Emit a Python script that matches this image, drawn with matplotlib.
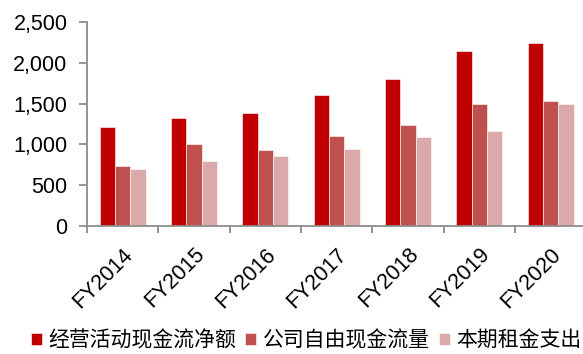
import numpy as np
import matplotlib.pyplot as plt
from matplotlib.ticker import FuncFormatter

years = ["FY2014", "FY2015", "FY2016", "FY2017", "FY2018", "FY2019", "FY2020"]
op_cash = [1213, 1320, 1381, 1605, 1801, 2145, 2239]
free_cash = [735, 1001, 931, 1107, 1238, 1491, 1532]
rent = [695, 793, 862, 948, 1087, 1164, 1499]

labels = ["经营活动现金流净额", "公司自由现金流量", "本期租金支出"]
colors = ["#C00000", "#C0504D", "#DBA9A9"]

plt.rcParams["font.family"] = ["Liberation Sans", "Noto Sans CJK SC"]

fig = plt.figure(figsize=(5.83, 3.54), dpi=100)
ax = fig.add_axes([0.149, 0.362, 0.857, 0.576])

x = np.arange(len(years))
w = 0.215
for i, (vals, lab, col) in enumerate(zip([op_cash, free_cash, rent], labels, colors)):
    ax.bar(x + (i - 1) * w, vals, width=w, color=col, label=lab,
           edgecolor="white", linewidth=0.4)

ax.set_xlim(-0.5, len(years) - 0.5)
ax.set_ylim(0, 2500)
ax.set_yticks(range(0, 2501, 500))
ax.yaxis.set_major_formatter(FuncFormatter(lambda v, p: f"{int(v):,}"))

# ticks at category boundaries, labels at centres
ax.set_xticks(np.arange(-0.5, len(years) - 0.4, 1))
ax.set_xticklabels([])
ax.set_xticks(x, minor=True)
ax.set_xticklabels(years, minor=True, rotation=45, ha="right",
                   rotation_mode="anchor", fontsize=15.5)
ax.tick_params(axis="x", which="minor", length=0, pad=13)
ax.tick_params(axis="x", which="major", length=5, width=1.3, color="#8C8C8C")
ax.tick_params(axis="y", length=6, width=1.3, color="#8C8C8C", labelsize=15.5, pad=8)

for s in ["top", "right"]:
    ax.spines[s].set_visible(False)
for s in ["left", "bottom"]:
    ax.spines[s].set_color("#8C8C8C")
    ax.spines[s].set_linewidth(1.3)

fig.legend(loc="lower center", bbox_to_anchor=(0.525, -0.045), ncol=3,
           frameon=False, handlelength=0.53, handleheight=0.53,
           handletextpad=0.3, columnspacing=0.45,
           prop={"family": ["Noto Sans CJK SC"], "size": 15})

fig.savefig("out.png", dpi=100)
